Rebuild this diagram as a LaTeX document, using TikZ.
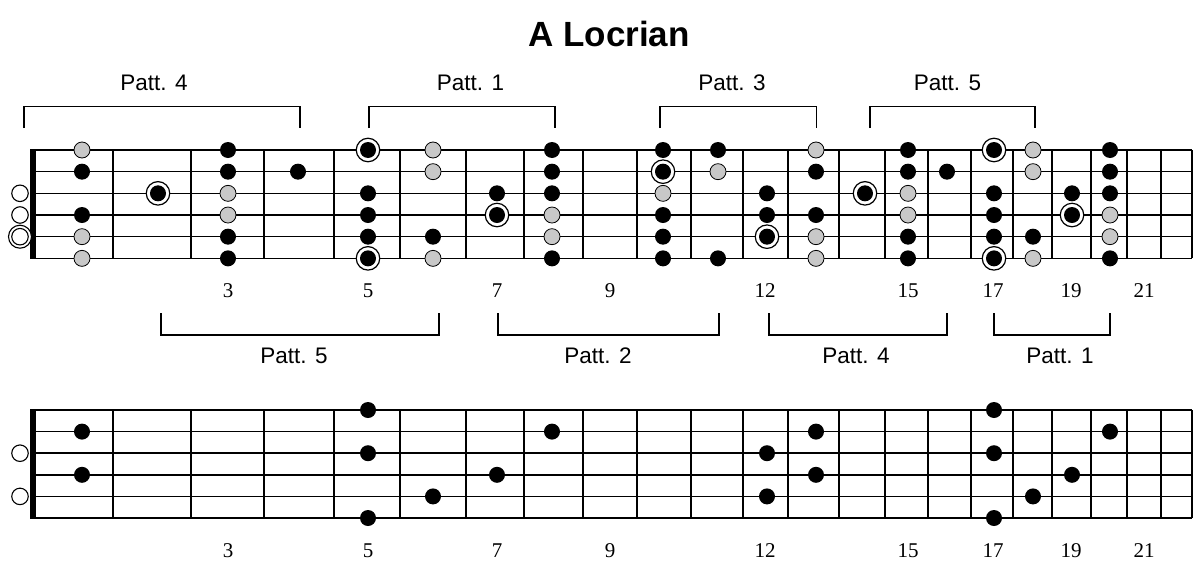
\documentclass[tikz,border=0pt]{standalone}
\usepackage{fontspec}
\setmainfont{Liberation Serif}
\newfontfamily\sansf{Liberation Sans}
\definecolor{dotgray}{RGB}{200,200,200}
\begin{document}
\begin{tikzpicture}[x=1pt,y=-1pt,
  str/.style={line width=1.5pt},
  fretline/.style={line width=1.6pt},
  bdot/.style={circle,fill=black,inner sep=0pt,minimum size=16pt},
  gdot/.style={circle,fill=dotgray,draw=black,line width=0.8pt,inner sep=0pt,minimum size=16pt},
  ringc/.style={circle,draw=black,line width=1.2pt,fill=white,inner sep=0pt,minimum size=23.5pt},
  opencirc/.style={circle,draw=black,line width=1.1pt,fill=white,inner sep=0pt,minimum size=16.5pt},
  bracketline/.style={line width=1.2pt},
  pattlabel/.style={font=\sansf\fontsize{22.5}{26}\selectfont,anchor=base,inner sep=0pt},
  fretnum/.style={font=\fontsize{21}{24}\selectfont,anchor=base,inner sep=0pt},
  titlestyle/.style={font=\sansf\bfseries\fontsize{35}{40}\selectfont,anchor=base,inner sep=0pt}]
\path[use as bounding box] (0,0) rectangle (1199,581);

% title
\node[titlestyle] (title) at (609,46.5) {A Locrian};

% fretboards
\foreach \by/\sp in {150/21.67,410/21.6}{
  \foreach \r in {0,...,5}
    \draw[str] (33,{\by+\sp*\r}) -- (1192,{\by+\sp*\r});
  \foreach \fx in {113,191,264,334,400,466,524,583,637,691,743,788,839,885,928,971,1013,1052,1091,1127,1161,1192}
    \draw[fretline] (\fx,\by) -- (\fx,{\by+5*\sp});
  \fill (30,{\by-0.7}) rectangle (35.5,{\by+5*\sp+0.8});
}

% fret numbers
\foreach \ny in {297,557}{
  \foreach \fx/\lab in {228/3,368/5,497/7,610/9,765/12,908/15,993/17,1071/19,1144/21}
    \node[fretnum] (n\ny-\lab) at (\fx,\ny) {\lab};
}

% top open strings
\node[opencirc] (to3) at (20,193.3) {};
\node[opencirc] (to4) at (20,215) {};
\node[opencirc,minimum size=23pt] (to5o) at (20,236.7) {};
\node[opencirc] (to5) at (20,236.7) {};

% top gray dots
\foreach \fx/\r in {82/1,82/5,82/6,228/3,228/4,433/1,433/2,433/6,552/4,552/5,663/3,718/2,816/1,816/5,816/6,908/3,908/4,1033/1,1033/2,1033/6,1110/4,1110/5}
  \node[gdot] (tg-\fx-\r) at (\fx,{150+21.67*(\r-1)}) {};

% top black dots
\foreach \fx/\r in {82/2,82/4,228/1,228/2,228/5,228/6,298/2,368/3,368/4,368/5,433/5,497/3,552/1,552/2,552/3,552/6,663/1,663/4,663/5,663/6,718/1,718/6,767/3,767/4,816/2,816/4,908/1,908/2,908/5,908/6,947/2,994/3,994/4,994/5,1033/5,1072/3,1110/1,1110/2,1110/3,1110/6}
  \node[bdot] (tb-\fx-\r) at (\fx,{150+21.67*(\r-1)}) {};

% top root dots
\foreach \fx/\r in {158/3,368/1,368/6,497/4,663/2,767/5,865/3,994/1,994/6,1072/4}{
  \node[ringc] (tr-\fx-\r) at (\fx,{150+21.67*(\r-1)}) {};
  \node[bdot] (trd-\fx-\r) at (\fx,{150+21.67*(\r-1)}) {};
}

% bottom open strings
\node[opencirc] (bo3) at (20,453.2) {};
\node[opencirc] (bo5) at (20,496.4) {};

% bottom dots
\foreach \fx/\r in {82/2,82/4,368/1,368/3,368/6,433/5,497/4,552/2,767/3,767/5,816/2,816/4,994/1,994/3,994/6,1033/5,1072/4,1110/2}
  \node[bdot,minimum size=16pt] (bb-\fx-\r) at (\fx,{410+21.6*(\r-1)}) {};

% top brackets
\foreach \xa/\xb/\lx/\lab in {24/300/154/4,369/555/470.5/1,660/816.5/732/3,870/1035/947.5/5}{
  \draw[bracketline] (\xa,128) -- (\xa,106.7) -- (\xb,106.7) -- (\xb,128);
  \node[pattlabel] (tp\lab) at (\lx,90.7) {Patt. \lab};
}

% bottom brackets
\foreach \xa/\xb/\lx/\lab in {161/439/294/5,498/719/598/2,769/947/856/4,994/1110/1060/1}{
  \draw[bracketline] (\xa,313) -- (\xa,335) -- (\xb,335) -- (\xb,313);
  \node[pattlabel] (bp\lab) at (\lx,363) {Patt. \lab};
}
\end{tikzpicture}
\end{document}
